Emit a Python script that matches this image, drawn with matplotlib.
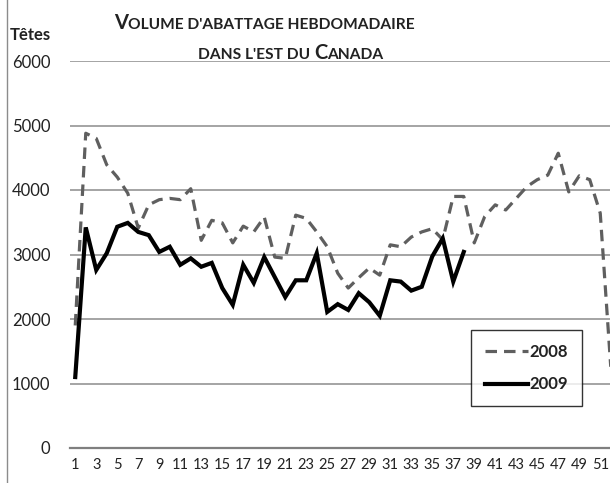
import matplotlib
matplotlib.use("Agg")
import matplotlib.pyplot as plt
from matplotlib.lines import Line2D

plt.rcParams['font.family'] = ['Lato', 'DejaVu Sans']

# weekly slaughter volume (heads), eastern Canada
weeks = list(range(1, 53))
heads_2008 = [1900, 4880, 4800, 4390, 4200, 3950, 3410, 3770, 3850, 3870,
              3850, 4020, 3220, 3530, 3490, 3180, 3440, 3350, 3580, 2960,
              2940, 3610, 3560, 3350, 3120, 2710, 2480, 2640, 2790, 2680,
              3150, 3120, 3270, 3350, 3400, 3230, 3900, 3900, 3180, 3590,
              3770, 3690, 3870, 4050, 4160, 4230, 4570, 3970, 4220, 4160,
              3640, 1260]
heads_2009 = [1100, 3420, 2760, 3020, 3430, 3490, 3350, 3300, 3040, 3120,
              2840, 2940, 2810, 2870, 2480, 2220, 2840, 2560, 2960, 2650,
              2340, 2600, 2600, 3020, 2110, 2230, 2140, 2400, 2260, 2050,
              2600, 2580, 2440, 2500, 2970, 3250, 2580, 3040]
y_ticks = [0, 1000, 2000, 3000, 4000, 5000, 6000]
x_ticks = list(range(1, 53, 2))

W, H = 610, 483
fig = plt.figure(figsize=(W / 100, H / 100), dpi=100)
ax = fig.add_axes([70 / W, 35 / H, 540 / W, 387 / H])

ax.plot(weeks, heads_2008, color='#5f5f5f', lw=2.3, dashes=(3.6, 2.2),
        label='2008', clip_on=False)
ax.plot(weeks[:len(heads_2009)], heads_2009, color='black', lw=3.0,
        label='2009', solid_joinstyle='miter')

ax.set_xlim(0.5, 0.5 + 540 / 10.5)
ax.set_ylim(0, 6000)
ax.set_yticks(y_ticks)
ax.set_xticks(x_ticks)
ax.grid(axis='y', color='#8c8c8c', lw=1.1)
ax.set_axisbelow(True)
for s in ['top', 'right', 'left']:
    ax.spines[s].set_visible(False)
ax.spines['bottom'].set_color('#7f7f7f')
ax.spines['bottom'].set_linewidth(1.6)
ax.tick_params(axis='y', length=0, pad=14, labelsize=12, labelcolor='#222222')
ax.tick_params(axis='x', length=0, pad=7, labelsize=10.5, labelcolor='#222222')

leg = ax.legend(loc='upper left', bbox_to_anchor=(463 / W, 1 - 322 / H),
                bbox_transform=fig.transFigure, frameon=True, fancybox=False,
                handlelength=2.6, handletextpad=0.1, labelspacing=1.0,
                borderpad=0.8, prop={'weight': 'bold', 'size': 12})
leg.get_frame().set_edgecolor('black')
leg.get_frame().set_linewidth(1.0)
for t in leg.get_texts():
    t.set_color('#222222')

fig.text(10 / W, 1 - 40 / H, 'Têtes', weight='bold', size=12, color='#222222')
fig.add_artist(Line2D([7 / W, 7 / W], [0, 1], transform=fig.transFigure,
                      color='#8c8c8c', lw=1.0))


# title in small caps: original capitals big, the rest as smaller capitals
def small_caps(text, xc, y, big=14.5, small=11.2):
    renderer = fig.canvas.get_renderer()
    runs = []
    for ch in text:
        size = big if ch.isupper() else small
        if runs and runs[-1][1] == size:
            runs[-1][0] += ch.upper()
        else:
            runs.append([ch.upper(), size])
    artists = []
    for s, size in runs:
        t = fig.text(0, y, s, size=size, weight='bold', color='#222222',
                     va='baseline', ha='left')
        artists.append(t)
    widths = [t.get_window_extent(renderer).width for t in artists]
    x = xc * W - sum(widths) / 2
    for t, w in zip(artists, widths):
        t.set_x(x / W)
        x += w


small_caps("Volume d'abattage hebdomadaire", 264 / W, 1 - 29 / H)
small_caps("dans l'est du Canada", 291 / W, 1 - 59 / H)

fig.savefig('out.png', dpi=100)
